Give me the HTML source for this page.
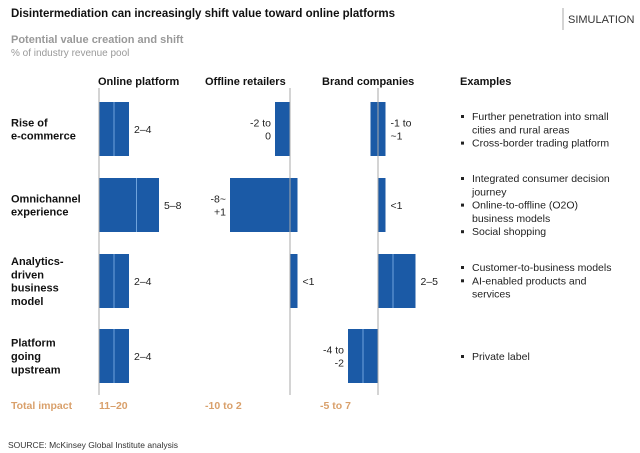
<!DOCTYPE html>
<html><head><meta charset="utf-8"><style>
body{margin:0;background:#fff;}
svg{display:block;font-family:"Liberation Sans",Arial,sans-serif;}
</style></head><body>
<svg id="c" width="640" height="453" viewBox="0 0 640 453">
<text x="11" y="17" font-size="11.5" font-weight="bold" fill="#111">Disintermediation can increasingly shift value toward online platforms</text>
<line x1="563" y1="8" x2="563" y2="30" stroke="#aaa"/>
<text x="568" y="23" font-size="11" fill="#333">SIMULATION</text>
<text x="11" y="43" font-size="11" font-weight="bold" fill="#999">Potential value creation and shift</text>
<text x="11" y="56" font-size="10" fill="#999">% of industry revenue pool</text>
<g font-size="11" font-weight="bold" fill="#111">
<text x="98" y="85">Online platform</text>
<text x="205" y="85">Offline retailers</text>
<text x="322" y="85">Brand companies</text>
<text x="460" y="85">Examples</text>
</g>
<g id="marks"></g>
<g font-size="10.5" fill="#222" id="examples"></g>
<text x="11" y="409" font-size="10.5" font-weight="bold" fill="#d9a06b">Total impact</text>
<text x="8" y="448" font-size="8.5" fill="#333">SOURCE:  McKinsey Global Institute analysis</text>
</svg>
<script>
const rows=[["Rise of","e-commerce"],["Omnichannel","experience"],["Analytics-","driven","business","model"],["Platform","going","upstream"]];
const onlineLo=[2,5,2,2], onlineHi=[4,8,4,4];
const offlineLo=[-2,-8,0,null], offlineHi=[0,1,1,null];
const brandLo=[-1,0,2,-4], brandHi=[1,1,5,-2];
const onlineLbl=[["2–4"],["5–8"],["2–4"],["2–4"]];
const offlineLbl=[["-2 to","0"],["-8~","+1"],["<1"],null];
const brandLbl=[["-1 to","~1"],["<1"],["2–5"],["-4 to","-2"]];
const totals=["11–20","-10 to 2","-5 to 7"];
const examples=[[["Further penetration into small","cities and rural areas"],["Cross-border trading platform"]],
[["Integrated consumer decision","journey"],["Online-to-offline (O2O)","business models"],["Social shopping"]],
[["Customer-to-business models"],["AI-enabled products and","services"]],
[["Private label"]]];
const NS="http://www.w3.org/2000/svg";
const axes=[99,290,378], unit=7.5;
const rowTop=[102,178,254,329], rowH=54;
const series=[[onlineLo,onlineHi,onlineLbl],[offlineLo,offlineHi,offlineLbl],[brandLo,brandHi,brandLbl]];
const names=["online","offline","brand"];
const g=document.getElementById('marks');
function mk(t,a){const e=document.createElementNS(NS,t);for(const k in a)e.setAttribute(k,a[k]);return e;}
function xs(c,v){return axes[c]+v*unit;}
rows.forEach((ls,r)=>{
  const cy=rowTop[r]+rowH/2;
  const t=mk('text',{x:11,'font-size':11,'font-weight':'bold',fill:'#111'});
  
  
  const y0=cy-(ls.length-1)*6.7+4;
  ls.forEach((l,i)=>{const s=mk('tspan',{x:11,y:y0+i*13.4});s.textContent=l;t.appendChild(s);});
  g.appendChild(t);
});
series.forEach((s,c)=>{
  const [lo,hi,lbl]=s;
  for(let r=0;r<4;r++){
    if(lo[r]==null)continue;
    const a=Math.min(lo[r],0), b=Math.max(hi[r],0);
    const x1=xs(c,a), x2=xs(c,b);
    const rc=mk('rect',{x:x1,y:rowTop[r],width:x2-x1,height:rowH,fill:'#1b5aa6'});
    
    
    g.appendChild(rc);
    [lo[r],hi[r]].forEach(v=>{
      if(v>a&&v<b){const ln=mk('line',{x1:xs(c,v),x2:xs(c,v),y1:rowTop[r],y2:rowTop[r]+rowH,stroke:'#6fa3dc','stroke-width':1});
      
      
      g.appendChild(ln);}
    });
    const L=lbl[r], neg=lo[r]<0&&Math.abs(lo[r])>hi[r];
    const tx=neg?x1-4:x2+5;
    const t=mk('text',{'font-size':10.5,fill:'#222','text-anchor':neg?'end':'start'});
    
    
    const cy=rowTop[r]+rowH/2, y0=cy-(L.length-1)*6.5+4;
    L.forEach((l,i)=>{const sp=mk('tspan',{x:tx,y:y0+i*13});sp.textContent=l;t.appendChild(sp);});
    g.appendChild(t);
  }
  const ax=mk('line',{x1:axes[c],x2:axes[c],y1:88,y2:395,stroke:'#aaa','stroke-width':1});
  
  
  g.appendChild(ax);
  const tt=mk('text',{x:[99,205,320][c],y:409,'font-size':10.5,'font-weight':'bold',fill:'#d9a06b'});
  
  
  tt.textContent=totals[c];g.appendChild(tt);
});
const eg=document.getElementById('examples');
const exStart=[120,182,271,360];
examples.forEach((items,r)=>{
  let y=exStart[r];
  items.forEach(it=>{
    const b=mk('rect',{x:461,y:y-5,width:3,height:3,fill:'#222'});
    
    
    eg.appendChild(b);
    it.forEach(l=>{const t=mk('text',{x:472,y:y});
      
      
      t.textContent=l;eg.appendChild(t);y+=13.3;});
  });
});
</script>
</body></html>
